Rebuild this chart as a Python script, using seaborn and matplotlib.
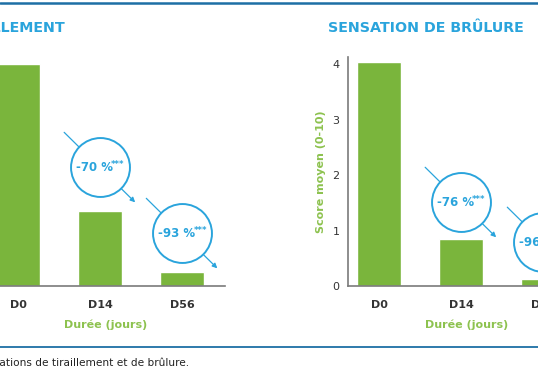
import pandas as pd
import seaborn as sns
import matplotlib.pyplot as plt
from matplotlib.lines import Line2D

# values (mean score, 0-10 scale)
days = ['D0', 'D14', 'D56']
tiraillement = [4.0, 1.35, 0.25]
brulure = [4.04, 0.85, 0.13]
drops_tir = ['-70 %', '-93 %']
drops_bru = ['-76 %', '-96 %']
badge_y_tir = [2.14, 0.95]
badge_y_bru = [1.51, 0.79]

GREEN = '#7ab53c'
LABEL_GREEN = '#8dc24f'
BLUE = '#2aa4dc'
DARK_BLUE = '#1d6fa5'
GREY = '#7a7a7a'

W, H = 538, 384


def px_box(left, top, right, bottom):
    return [left / W, 1 - bottom / H, (right - left) / W, (bottom - top) / H]


def badge(ax, x, y, label):
    t = ax.transData
    cx, cy = t.transform((x, y))
    inv = t.inverted()
    p0 = inv.transform((cx - 36, cy + 35))
    p1 = inv.transform((cx + 35, cy - 35))
    ax.annotate('', xy=p1, xytext=p0, annotation_clip=False,
                arrowprops=dict(arrowstyle='-|>', color=BLUE, lw=0.9,
                                mutation_scale=7, shrinkA=0, shrinkB=0),
                zorder=3)
    ax.scatter([x], [y], s=1800, facecolor='white', edgecolor=BLUE,
               linewidth=1.4, zorder=4, clip_on=False)
    ax.annotate(label, xy=(x, y), xytext=(-4, 0), textcoords='offset points',
                ha='center', va='center', color=BLUE, fontsize=8.5,
                fontweight='bold', zorder=5, annotation_clip=False)
    ax.annotate('***', xy=(x, y), xytext=(8, 2), textcoords='offset points',
                ha='left', va='center', color=BLUE, fontsize=6,
                fontweight='bold', zorder=5, annotation_clip=False)


def panel(ax, values, drops, badge_y, show_y):
    df = pd.DataFrame({'jour': days, 'score': values})
    sns.barplot(data=df, x='jour', y='score', color=GREEN, width=0.54,
                saturation=1, ax=ax, zorder=2)
    ax.set_xlim(-0.378, 2.52)
    ax.set_ylim(0, 4.13)
    for i, (lab, by) in enumerate(zip(drops, badge_y)):
        badge(ax, i + 1, by, lab)
    ax.set_xlabel('Durée (jours)', color=LABEL_GREEN, fontsize=8,
                  fontweight='bold', labelpad=7)
    ax.tick_params(axis='x', length=0, pad=10, labelsize=8, colors='#333333')
    for lbl in ax.get_xticklabels():
        lbl.set_fontweight('bold')
    for s in ['top', 'right']:
        ax.spines[s].set_visible(False)
    ax.spines['bottom'].set_color(GREY)
    ax.spines['bottom'].set_linewidth(1.2)
    if show_y:
        ax.spines['left'].set_color(GREY)
        ax.spines['left'].set_linewidth(1.2)
        ax.set_yticks([0, 1, 2, 3, 4])
        ax.tick_params(axis='y', length=0, pad=6, labelsize=8, colors='#333333')
        ax.set_ylabel('Score moyen (0-10)', color=LABEL_GREEN, fontsize=8,
                      fontweight='bold', labelpad=5)
    else:
        ax.spines['left'].set_visible(False)
        ax.set_yticks([])
        ax.set_ylabel('')


sns.set_style('white')
plt.rcParams['font.family'] = ['DejaVu Sans']

fig = plt.figure(figsize=(W / 100, H / 100), dpi=100)

ax_left = fig.add_axes(px_box(-13, 57, 225, 286))
ax_right = fig.add_axes(px_box(348, 57, 586, 286))

panel(ax_left, tiraillement, drops_tir, badge_y_tir, show_y=False)
panel(ax_right, brulure, drops_bru, badge_y_bru, show_y=True)

# titles
fig.text(65 / W, 1 - 28 / H, 'SENSATION DE TIRAILLEMENT', ha='right', va='center',
         color=BLUE, fontsize=10.3, fontweight='bold')
fig.text(524 / W, 1 - 28 / H, 'SENSATION DE BRÛLURE', ha='right', va='center',
         color=BLUE, fontsize=10.3, fontweight='bold')

# frame lines
fig.add_artist(Line2D([0, 1], [1 - 3 / H, 1 - 3 / H], color=DARK_BLUE, lw=1.8))
fig.add_artist(Line2D([0, 1], [1 - 347 / H, 1 - 347 / H], color=DARK_BLUE, lw=1.3))

fig.text(189 / W, 1 - 363 / H, 'Évolution des sensations de tiraillement et de brûlure.',
         ha='right', va='center', color='#222222', fontsize=7.6)

fig.savefig('out.png', dpi=100)
